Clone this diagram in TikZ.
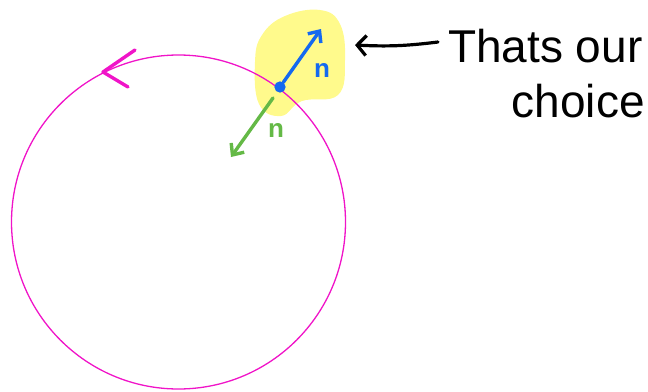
\documentclass[tikz,border=0pt]{standalone}
\usepackage{fontspec}
\setmainfont{Liberation Sans}
\usetikzlibrary{arrows.meta}
\usetikzlibrary{positioning}

\definecolor{penblue}{RGB}{20,105,240}
\definecolor{pengreen}{RGB}{100,185,70}
\definecolor{penpink}{RGB}{240,20,200}
\definecolor{marker}{RGB}{255,250,140}

\begin{document}
\begin{tikzpicture}[x=1pt, y=-1pt,
  ring/.style   = {draw=penpink, line width=1.3pt},
  normal/.style = {-{Straight Barb[length=9pt, width=16pt]}, line width=3.4pt, line cap=round},
  pointer/.style= {-{Straight Barb[length=9pt, width=20pt]}, line width=3.2pt, line cap=round},
  note/.style   = {font=\fontsize{46}{52}\selectfont, inner sep=0pt},
  label/.style  = {font=\bfseries\fontsize{26}{30}\selectfont, inner sep=0pt}
]
  \useasboundingbox (0,0) rectangle (648,391);

  % highlight behind the point
  \fill[marker] plot[smooth cycle, tension=0.7] coordinates
    {(262,35) (285,16) (320,10) (340,24) (345,60) (338,95) (302,101) (281,116) (259,104) (255,62)};

  % the circle and its direction mark
  \coordinate (centre) at (178.5,222);
  \draw[ring] (centre) circle[radius=167];
  \coordinate (tipA) at (135,50);
  \coordinate (tipB) at (103,72);
  \coordinate (tipC) at (128,87);
  \draw[penpink, line width=3.4pt, line cap=round, line join=round]
    (tipA) -- (tipB) -- (tipC);

  % the point and the two normals
  \node[circle, fill=penblue, inner sep=4pt] (dot) at (280,87) {};
  \coordinate (out) at (321,29);
  \coordinate (base) at (273,98);
  \coordinate (in) at (231,157);
  \draw[normal, penblue] (dot) -- (out);
  \draw[normal, pengreen] (base) -- (in);
  \node[label, penblue]  (nout) at (322,70)  {n};
  \node[label, pengreen] (nin)  at (276,130) {n};

  % the note
  \node[note, anchor=base west] (thats)  at (448,62)  {Thats our};
  \node[note, anchor=base east] (choice) at (645,117) {choice};
  \coordinate (tail) at (438,42);
  \coordinate (head) at (355,45);
  \draw[pointer] (tail) to[bend left=5] (head);
\end{tikzpicture}
\end{document}
